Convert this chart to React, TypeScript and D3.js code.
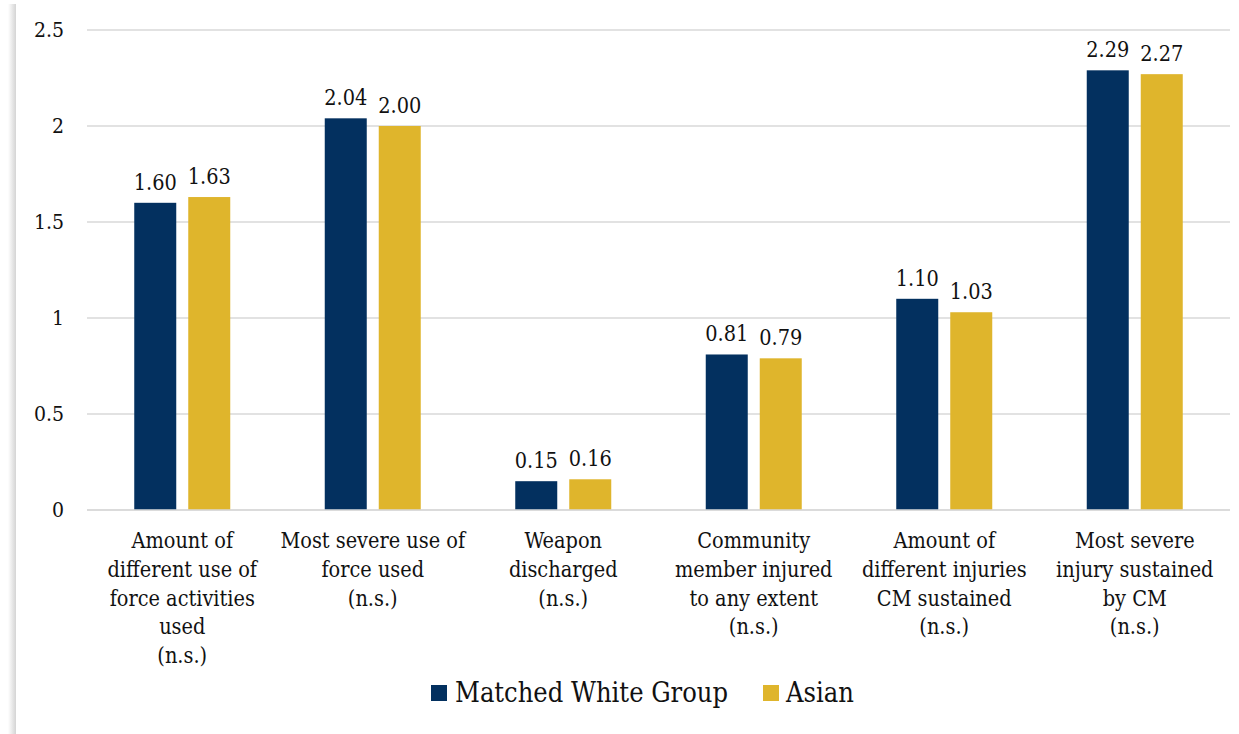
import React from "react";
import * as d3 from "d3";

const categories: string[][] = [
  ["Amount of", "different use of", "force activities", "used", "(n.s.)"],
  ["Most severe use of", "force used", "(n.s.)"],
  ["Weapon", "discharged", "(n.s.)"],
  ["Community", "member injured", "to any extent", "(n.s.)"],
  ["Amount of", "different injuries", "CM sustained", "(n.s.)"],
  ["Most severe", "injury sustained", "by CM", "(n.s.)"],
];
const seriesNames = ["Matched White Group", "Asian"];
const whiteValues = [1.6, 2.04, 0.15, 0.81, 1.1, 2.29];
const asianValues = [1.63, 2.0, 0.16, 0.79, 1.03, 2.27];
const yTicks = [0, 0.5, 1, 1.5, 2, 2.5];
const colors = ["#03305F", "#DFB52C"];

const W = 1239;
const H = 734;
const FONT = "'DejaVu Serif Condensed', 'DejaVu Serif', serif";

export default function App() {
  const x0 = d3.scaleBand<number>().domain(d3.range(categories.length)).range([87, 1230]).paddingInner(0).paddingOuter(0);
  const y = d3.scaleLinear().domain([0, 2.5]).range([510, 30]);
  const series = [whiteValues, asianValues];
  const barW = 42;
  const gap = 12;

  return (
    <div style={{ position: "absolute", left: 0, top: 0 }}>
      <svg width={W} height={H} style={{ display: "block", fontFamily: FONT }}>
        <defs>
          <linearGradient id="shadow" x1="0" x2="1" y1="0" y2="0">
            <stop offset="0" stopColor="#ffffff" />
            <stop offset="1" stopColor="#d4d4d4" />
          </linearGradient>
        </defs>
        <rect x={0} y={0} width={W} height={H} fill="#fff" />
        <rect x={8} y={4} width={8} height={H - 4} fill="url(#shadow)" />
        {yTicks.map((t) => (
          <g key={t}>
            <line x1={87} x2={1230} y1={y(t)} y2={y(t)} stroke="#d9d9d9" strokeWidth={1.5} />
            <text x={64} y={y(t)} dy="0.35em" textAnchor="end" fontSize={21} fill="#111">
              {String(t)}
            </text>
          </g>
        ))}
        {categories.map((lines, i) => {
          const cx = (x0(i) as number) + x0.bandwidth() / 2;
          return (
            <g key={i}>
              {series.map((vals, s) => {
                const bx = s === 0 ? cx - gap / 2 - barW : cx + gap / 2;
                const v = vals[i];
                return (
                  <g key={s}>
                    <rect x={bx} y={y(v)} width={barW} height={y(0) - y(v)} fill={colors[s]} />
                    <text x={bx + barW / 2} y={y(v) - 13} textAnchor="middle" fontSize={21.5} fill="#111">
                      {v.toFixed(2)}
                    </text>
                  </g>
                );
              })}
              {lines.map((ln, k) => (
                <text key={k} x={cx} y={548 + k * 28.8} textAnchor="middle" fontSize={21.5} fill="#111">
                  {ln}
                </text>
              ))}
            </g>
          );
        })}
        <line x1={87} x2={1230} y1={y(0)} y2={y(0)} stroke="#d9d9d9" strokeWidth={1.5} />
        <g>
          <rect x={431} y={685} width={16} height={16} fill={colors[0]} />
          <text x={455} y={702} fontSize={27} fill="#111">{seriesNames[0]}</text>
          <rect x={763} y={685} width={16} height={16} fill={colors[1]} />
          <text x={786} y={702} fontSize={27} fill="#111">{seriesNames[1]}</text>
        </g>
      </svg>
    </div>
  );
}
